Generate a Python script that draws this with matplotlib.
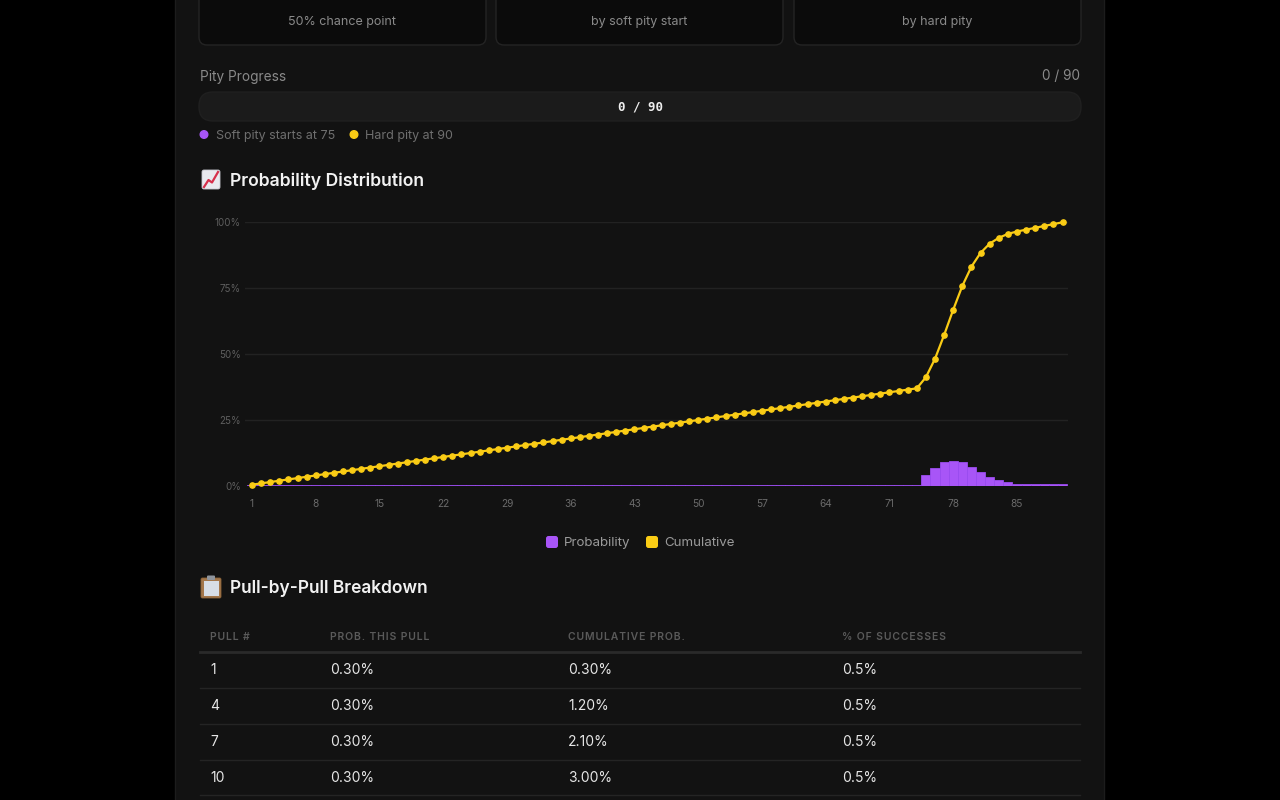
import numpy as np
import matplotlib
matplotlib.use("Agg")
from matplotlib import pyplot as plt
from matplotlib.patches import FancyBboxPatch, Rectangle, Circle

plt.rcParams['font.family'] = ['Inter', 'DejaVu Sans']

# ---- data ----
pulls = np.arange(1, 91)
# share of all successes landing on each pull (%)
share = [0.5] * 74 + [4.2, 7.0, 9.0, 9.6, 9.0, 7.3, 5.2, 3.5, 2.2, 1.5, 0.9,
                      0.7, 0.7, 0.7, 0.7, 0.7]
cumulative = np.cumsum(share)

x_ticks = [1, 8, 15, 22, 29, 36, 43, 50, 57, 64, 71, 78, 85]
y_ticks = [0, 25, 50, 75, 100]

card_labels = ["50% chance point", "by soft pity start", "by hard pity"]

table_cols = ["PULL #", "PROB. THIS PULL", "CUMULATIVE PROB.", "% OF SUCCESSES"]
table_pull = [1, 4, 7, 10]
table_prob = [0.30, 0.30, 0.30, 0.30]
table_cum = [0.30, 1.20, 2.10, 3.00]
table_share = [0.5, 0.5, 0.5, 0.5]

PURPLE = '#a855f7'
YELLOW = '#facc15'
DY = 1.5  # text centering nudge (px)


def spaced(s):
    # letter-spacing like the css uppercase headers
    return '\u200a'.join(s)


fig = plt.figure(figsize=(12.8, 8), dpi=100)
fig.patch.set_facecolor('#000000')

# page layer in pixel coordinates
pg = fig.add_axes([0, 0, 1, 1])
pg.set_xlim(0, 1280)
pg.set_ylim(800, 0)
pg.axis('off')

# container
pg.add_patch(Rectangle((175, -5), 929, 810, facecolor='#121212',
                       edgecolor='#1c1c1c', lw=1))

# stat cards (tops cut off)
for x0, lab in zip([199, 496, 794], card_labels):
    pg.add_patch(FancyBboxPatch((x0, -30), 287, 75,
                                boxstyle="round,pad=0,rounding_size=8",
                                facecolor='#0b0b0b', edgecolor='#242424', lw=1))
    pg.text(x0 + 143.5, 20 + DY, lab, color='#8a8a8a', fontsize=9,
            ha='center', va='center')

# pity progress
pg.text(200, 75 + DY, "Pity Progress", color='#8a8a8a', fontsize=9.8, va='center')
pg.text(1080, 75 + DY, "0 / 90", color='#8a8a8a', fontsize=9.8, va='center',
        ha='right')
pg.add_patch(FancyBboxPatch((199, 92), 882, 29,
                            boxstyle="round,pad=0,rounding_size=14",
                            facecolor='#1b1b1b', edgecolor='#202020', lw=1))
pg.text(640, 107, "0 / 90", color='#eeeeee', fontsize=9, ha='center',
        va='center', family='DejaVu Sans Mono', fontweight='bold')

pg.add_patch(Circle((204, 134.5), 3.8, color=PURPLE))
pg.text(216, 134.5 + DY, "Soft pity starts at 75", color='#6f6f6f', fontsize=9,
        va='center')
pg.add_patch(Circle((354, 134.5), 3.8, color=YELLOW))
pg.text(365, 134.5 + DY, "Hard pity at 90", color='#6f6f6f', fontsize=9,
        va='center')

# section headings with drawn icons
pg.add_patch(FancyBboxPatch((202, 170), 18, 19,
                            boxstyle="round,pad=0,rounding_size=2",
                            facecolor='#e9e9ef', edgecolor='#c8c8d0', lw=0.6))
pg.plot([204, 208.5, 212, 218], [187, 180, 182.5, 172], color='#d6304c', lw=1.6)
pg.text(230, 179.5 + DY, "Probability Distribution", color='#f2f2f2',
        fontsize=12.7, fontweight='semibold', va='center')

pg.add_patch(FancyBboxPatch((201, 578), 20, 20,
                            boxstyle="round,pad=0,rounding_size=1.5",
                            facecolor='#a4774b', edgecolor='#8a6238', lw=0.6))
pg.add_patch(Rectangle((203.5, 580.5), 15, 15.5, facecolor='#d8dee6', lw=0))
pg.add_patch(FancyBboxPatch((207, 575.5), 8, 4.5,
                            boxstyle="round,pad=0,rounding_size=1",
                            facecolor='#8e949c', lw=0))
pg.text(230, 587 + DY, "Pull-by-Pull Breakdown", color='#f2f2f2',
        fontsize=12.5, fontweight='semibold', va='center')

# legend of the chart
pg.add_patch(FancyBboxPatch((546, 536), 12, 12,
                            boxstyle="round,pad=0,rounding_size=2.5",
                            facecolor=PURPLE, lw=0))
pg.text(564, 541.5 + DY, "Probability", color='#9a9a9a', fontsize=9.6,
        va='center')
pg.add_patch(FancyBboxPatch((646, 536), 12, 12,
                            boxstyle="round,pad=0,rounding_size=2.5",
                            facecolor=YELLOW, lw=0))
pg.text(664, 541.5 + DY, "Cumulative", color='#9a9a9a', fontsize=9.6,
        va='center')

# table
col_x = [210, 330, 568, 842]
for cx, name in zip(col_x, table_cols):
    pg.text(cx, 636 + DY, spaced(name), color='#5a5a5a', fontsize=7.5,
            fontweight='semibold', va='center')
pg.plot([200, 1080], [652, 652], color='#2a2a2a', lw=2)
row_y = [670, 706, 742, 777]
for ry, p, pr, cu, sh in zip(row_y, table_pull, table_prob, table_cum, table_share):
    cells = [str(p), f"{pr:.2f}%", f"{cu:.2f}%", f"{sh:.1f}%"]
    for cx, s in zip(col_x, cells):
        pg.text(cx, ry + 0.5, s, color='#e6e6e6', fontsize=10, va='center')
    pg.plot([200, 1080], [ry + 18, ry + 18], color='#242424', lw=1)

# ---- chart ----
L, R, T, B = 245, 1068, 222, 486
ax = fig.add_axes([L / 1280, (800 - B) / 800, (R - L) / 1280, (B - T) / 800])
ax.set_facecolor('none')
ax.set_xlim(1 - 7 / 9.107, 1 + (R - 252) / 9.107)
ax.set_ylim(0, 100)
for s in ax.spines.values():
    s.set_visible(False)
ax.set_yticks(y_ticks)
ax.set_yticklabels([f"{v}%" for v in y_ticks])
ax.set_xticks(x_ticks)
ax.grid(axis='y', color='#222222', lw=1)
ax.set_axisbelow(True)
ax.tick_params(axis='both', length=0, colors='#5e5e5e', labelsize=7)
ax.tick_params(axis='x', pad=9.3, labelcolor='#6a6a6a', labelsize=7.3)
ax.tick_params(axis='y', pad=3)

ax.bar(pulls, share, width=1.0, color=PURPLE, edgecolor='#9a4cf0', lw=0.6,
       zorder=2)
ax.plot(pulls, cumulative, color=YELLOW, lw=1.6, marker='o', ms=3.8,
        clip_on=False, zorder=3)

fig.savefig("out.png", dpi=100, facecolor=fig.get_facecolor())
